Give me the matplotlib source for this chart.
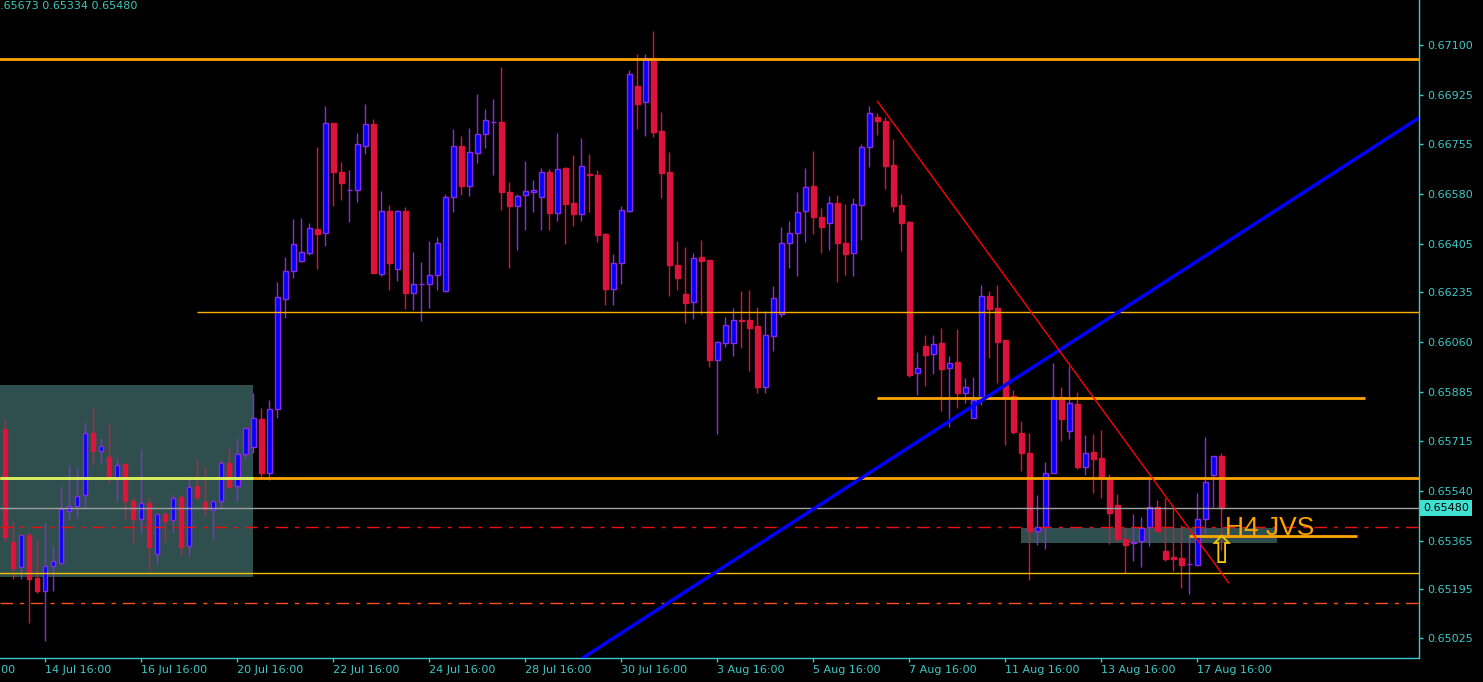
import numpy as np
import matplotlib
matplotlib.use("Agg")
import matplotlib.pyplot as plt
from matplotlib.patches import Rectangle

# ---------------- data (H4 candles) ----------------
opens = [0.65755, 0.65361, 0.65272, 0.65384, 0.65234, 0.65190, 0.65276, 0.65286, 0.65468, 0.65485,
         0.65524, 0.65741, 0.65678, 0.65657, 0.65582, 0.65633, 0.65503, 0.65440, 0.65496, 0.65319,
         0.65459, 0.65436, 0.65517, 0.65347, 0.65557, 0.65501, 0.65473, 0.65503, 0.65636, 0.65557,
         0.65669, 0.65694, 0.65790, 0.65603, 0.65825, 0.66212, 0.66308, 0.66345, 0.66373, 0.66455,
         0.66443, 0.66826, 0.66654, 0.66594, 0.66594, 0.66748, 0.66822, 0.66300, 0.66518, 0.66317,
         0.66518, 0.66231, 0.66262, 0.66262, 0.66294, 0.66238, 0.66567, 0.66745, 0.66608, 0.66721,
         0.66787, 0.66829, 0.66830, 0.66584, 0.66538, 0.66574, 0.66584, 0.66567, 0.66654, 0.66511,
         0.66668, 0.66546, 0.66510, 0.66647, 0.66644, 0.66439, 0.66247, 0.66338, 0.66519, 0.66957,
         0.66902, 0.67053, 0.66799, 0.66656, 0.66330, 0.66227, 0.66202, 0.66357, 0.66346, 0.65999,
         0.66058, 0.66058, 0.66136, 0.66136, 0.66115, 0.65904, 0.66080, 0.66157, 0.66408, 0.66441,
         0.66518, 0.66607, 0.66498, 0.66478, 0.66546, 0.66406, 0.66371, 0.66539, 0.66742, 0.66847,
         0.66833, 0.66679, 0.66539, 0.66479, 0.65951, 0.66045, 0.66017, 0.66056, 0.65968, 0.65989,
         0.65883, 0.65793, 0.65862, 0.66220, 0.66178, 0.66066, 0.65870, 0.65741, 0.65671, 0.65400,
         0.65412, 0.65603, 0.65867, 0.65748, 0.65844, 0.65624, 0.65674, 0.65655, 0.65585, 0.65489,
         0.65370, 0.65356, 0.65363, 0.65412, 0.65482, 0.65328, 0.65309, 0.65305, 0.65282, 0.65281,
         0.65442, 0.65594, 0.65660]
highs = [0.65790, 0.65429, 0.65384, 0.65396, 0.65370, 0.65426, 0.65347, 0.65557, 0.65630, 0.65618,
         0.65782, 0.65831, 0.65723, 0.65778, 0.65653, 0.65633, 0.65519, 0.65685, 0.65517, 0.65459,
         0.65467, 0.65525, 0.65525, 0.65589, 0.65650, 0.65627, 0.65503, 0.65648, 0.65688, 0.65723,
         0.65758, 0.65883, 0.65828, 0.65858, 0.66271, 0.66358, 0.66491, 0.66495, 0.66477, 0.66743,
         0.66887, 0.66826, 0.66691, 0.66663, 0.66792, 0.66894, 0.66841, 0.66589, 0.66540, 0.66523,
         0.66533, 0.66376, 0.66341, 0.66414, 0.66428, 0.66579, 0.66806, 0.66782, 0.66810, 0.66930,
         0.66876, 0.66911, 0.67024, 0.66621, 0.66577, 0.66694, 0.66628, 0.66670, 0.66666, 0.66792,
         0.66674, 0.66715, 0.66775, 0.66719, 0.66663, 0.66441, 0.66369, 0.66537, 0.67013, 0.67069,
         0.67069, 0.67150, 0.66866, 0.66726, 0.66414, 0.66393, 0.66371, 0.66418, 0.66346, 0.66064,
         0.66148, 0.66178, 0.66239, 0.66241, 0.66182, 0.66169, 0.66255, 0.66463, 0.66484, 0.66586,
         0.66668, 0.66729, 0.66530, 0.66570, 0.66574, 0.66542, 0.66563, 0.66754, 0.66887, 0.66861,
         0.66847, 0.66770, 0.66577, 0.66484, 0.66026, 0.66085, 0.66085, 0.66108, 0.66012, 0.66105,
         0.65936, 0.65937, 0.66260, 0.66239, 0.66260, 0.66066, 0.65893, 0.65784, 0.65741, 0.65525,
         0.65641, 0.65987, 0.65903, 0.65977, 0.65886, 0.65735, 0.65739, 0.65754, 0.65599, 0.65529,
         0.65413, 0.65459, 0.65448, 0.65583, 0.65509, 0.65515, 0.65481, 0.65419, 0.65379, 0.65531,
         0.65728, 0.65660, 0.65673]
lows = [0.65362, 0.65231, 0.65231, 0.65078, 0.65181, 0.65015, 0.65190, 0.65286, 0.65438, 0.65443,
        0.65484, 0.65630, 0.65636, 0.65568, 0.65505, 0.65440, 0.65356, 0.65391, 0.65267, 0.65284,
        0.65362, 0.65397, 0.65315, 0.65312, 0.65508, 0.65447, 0.65370, 0.65484, 0.65554, 0.65505,
        0.65650, 0.65671, 0.65587, 0.65578, 0.65793, 0.66146, 0.66286, 0.66342, 0.66366, 0.66316,
        0.66398, 0.66538, 0.66559, 0.66481, 0.66552, 0.66720, 0.66303, 0.66293, 0.66244, 0.66275,
        0.66177, 0.66174, 0.66135, 0.66181, 0.66244, 0.66234, 0.66517, 0.66576, 0.66573, 0.66688,
        0.66741, 0.66646, 0.66524, 0.66321, 0.66384, 0.66454, 0.66517, 0.66454, 0.66454, 0.66485,
        0.66405, 0.66468, 0.66485, 0.66517, 0.66412, 0.66191, 0.66191, 0.66265, 0.66517, 0.66806,
        0.66782, 0.66778, 0.66565, 0.66222, 0.66243, 0.66128, 0.66142, 0.66160, 0.65974, 0.65740,
        0.66044, 0.66013, 0.66041, 0.65960, 0.65883, 0.65883, 0.66030, 0.66148, 0.66321, 0.66293,
        0.66412, 0.66439, 0.66373, 0.66384, 0.66272, 0.66296, 0.66293, 0.66419, 0.66674, 0.66786,
        0.66597, 0.66517, 0.66380, 0.65939, 0.65875, 0.65908, 0.65949, 0.65820, 0.65764, 0.65831,
        0.65848, 0.65793, 0.65840, 0.66006, 0.65916, 0.65701, 0.65740, 0.65610, 0.65229, 0.65351,
        0.65337, 0.65601, 0.65715, 0.65722, 0.65615, 0.65595, 0.65531, 0.65515, 0.65354, 0.65362,
        0.65251, 0.65295, 0.65272, 0.65348, 0.65397, 0.65295, 0.65260, 0.65201, 0.65180, 0.65278,
        0.65391, 0.65482, 0.65334]
closes = [0.65377, 0.65271, 0.65384, 0.65232, 0.65190, 0.65275, 0.65295, 0.65475, 0.65485, 0.65523,
          0.65741, 0.65680, 0.65695, 0.65586, 0.65631, 0.65503, 0.65440, 0.65496, 0.65344, 0.65459,
          0.65433, 0.65513, 0.65344, 0.65552, 0.65519, 0.65475, 0.65503, 0.65636, 0.65554, 0.65667,
          0.65758, 0.65793, 0.65603, 0.65825, 0.66217, 0.66308, 0.66402, 0.66374, 0.66458, 0.66440,
          0.66826, 0.66657, 0.66618, 0.66594, 0.66752, 0.66822, 0.66303, 0.66518, 0.66338, 0.66518,
          0.66233, 0.66262, 0.66262, 0.66294, 0.66406, 0.66567, 0.66745, 0.66608, 0.66724, 0.66787,
          0.66836, 0.66829, 0.66587, 0.66538, 0.66570, 0.66588, 0.66591, 0.66654, 0.66513, 0.66665,
          0.66545, 0.66510, 0.66675, 0.66645, 0.66436, 0.66247, 0.66336, 0.66521, 0.66997, 0.66894,
          0.67053, 0.66797, 0.66653, 0.66331, 0.66286, 0.66198, 0.66353, 0.66345, 0.65999, 0.66059,
          0.66119, 0.66136, 0.66134, 0.66111, 0.65904, 0.66084, 0.66213, 0.66406, 0.66441, 0.66514,
          0.66602, 0.66499, 0.66464, 0.66546, 0.66408, 0.66370, 0.66542, 0.66742, 0.66861, 0.66835,
          0.66678, 0.66538, 0.66478, 0.65945, 0.65968, 0.66016, 0.66055, 0.65967, 0.65988, 0.65883,
          0.65904, 0.65859, 0.66220, 0.66177, 0.66062, 0.65869, 0.65747, 0.65671, 0.65400, 0.65412,
          0.65601, 0.65867, 0.65790, 0.65846, 0.65624, 0.65671, 0.65652, 0.65589, 0.65461, 0.65370,
          0.65351, 0.65362, 0.65410, 0.65482, 0.65400, 0.65302, 0.65302, 0.65281, 0.65282, 0.65442,
          0.65569, 0.65660, 0.65480]

# time axis labels (bar index -> label)
tick_index = [5, 17, 29, 41, 53, 65, 77, 89, 101, 113, 125, 137, 149]
tick_labels = ["14 Jul 16:00", "16 Jul 16:00", "20 Jul 16:00", "22 Jul 16:00", "24 Jul 16:00",
               "28 Jul 16:00", "30 Jul 16:00", "3 Aug 16:00", "5 Aug 16:00", "7 Aug 16:00",
               "11 Aug 16:00", "13 Aug 16:00", "17 Aug 16:00"]
prev_tick_index = -7
prev_tick_label = "10 Jul 16:00"
price_ticks = [0.67100, 0.66925, 0.66755, 0.66580, 0.66405, 0.66235, 0.66060,
               0.65885, 0.65715, 0.65540, 0.65365, 0.65195, 0.65025]

# drawn objects
level_top = 0.67051
level_mid = 0.66164
level_mid_start = 24
level_short = 0.65865
level_short_span = (109, 170)
level_main = 0.65585
last_close = 0.65480
dashdot_red = 0.65412
jvs_level = 0.65383
jvs_span = (148, 169)
thin_yellow = 0.65251
dashdot_orange = 0.65146
box1 = (-1, 31, 0.65239, 0.65910)      # x0, x1, low, high
box2 = (127, 159, 0.65358, 0.65410)
blue_trend = ((72.2, 0.64955), (176.7, 0.66845))
red_trend = ((109.0, 0.66903), (152.9, 0.65218))
ohlc_header = "0.65673 0.65334 0.65480"
jvs_text = "H4 JVS"
jvs_text_pos = (152.5, 0.65386)
arrow_pos = (152.0, 0.65322)

# ---------------- figure ----------------
W, H = 1483, 682
fig = plt.figure(figsize=(W / 100, H / 100), dpi=100, facecolor="black")
ax = fig.add_axes([0, 24 / H, 1419 / W, 658 / H])
ax.set_facecolor("black")

xmin, xmax = -0.66, 176.7
ymin, ymax = 0.649545, 0.672575
ax.set_xlim(xmin, xmax)
ax.set_ylim(ymin, ymax)

o = np.array(opens); hgh = np.array(highs); lw_ = np.array(lows); c = np.array(closes)
x = np.arange(len(o))
up = c >= o
bull_fill, bull_edge = "#0000FF", "#8A2BE2"
bear_fill, bear_edge = "#DC143C", "#DC143C"
fill = np.where(up, bull_fill, bear_fill)
edge = np.where(up, bull_edge, bear_edge)

# boxes (behind candles)
for (bx0, bx1, blo, bhi) in (box1, box2):
    ax.add_patch(Rectangle((bx0, blo), bx1 - bx0, bhi - blo, facecolor="#2F4F4F",
                           edgecolor="none", zorder=1))

ax.vlines(x, lw_, hgh, colors=edge, linewidth=1, zorder=3)
ax.bar(x, np.maximum(np.abs(c - o), 2e-6), bottom=np.minimum(o, c), width=0.55,
       color=fill, edgecolor=edge, linewidth=1, zorder=4)

# horizontal levels
ax.axhline(level_top, color="#FFA500", lw=2, zorder=5)
ax.hlines(level_mid, level_mid_start, xmax, color="#FFB000", lw=1, zorder=5)
ax.hlines(level_short, *level_short_span, color="#FFA500", lw=2, zorder=5)
ax.axhline(level_main, color="#FFA500", lw=2, zorder=5)
ax.hlines(level_main, xmin, box1[1], color="#D4F064", lw=2, zorder=5)
ax.axhline(last_close, color="#A0A0A0", lw=1, zorder=5)
ax.axhline(dashdot_red, color="#E81010", lw=1, ls=(0, (9, 5, 3, 5)), zorder=5)
ax.axhline(thin_yellow, color="#F0C000", lw=1, zorder=5)
ax.axhline(dashdot_orange, color="#FF5010", lw=1, ls=(0, (9, 5, 3, 5)), zorder=5)
ax.hlines(jvs_level, *jvs_span, color="#FFA500", lw=2, zorder=5)

# trend lines
ax.axline(blue_trend[0], blue_trend[1], color="#0000FF", lw=2.5, zorder=6)
ax.plot([red_trend[0][0], red_trend[1][0]], [red_trend[0][1], red_trend[1][1]],
        color="#FF0000", lw=1, zorder=6)

# annotations
ax.text(jvs_text_pos[0], jvs_text_pos[1], jvs_text, color="#FFA500", fontsize=19,
        family="Liberation Sans", ha="left", va="baseline", zorder=7)
ax.text(arrow_pos[0], arrow_pos[1], "\u21e7", color="#F0C800", fontsize=27,
        family="DejaVu Sans", ha="center", va="center", zorder=7)

# axes styling
axis_col = "#3CC8C8"
for s in ("top", "left"):
    ax.spines[s].set_visible(False)
for s in ("right", "bottom"):
    ax.spines[s].set_color(axis_col)
    ax.spines[s].set_linewidth(1)

ax.yaxis.tick_right()
ax.set_yticks(price_ticks)
ax.set_yticklabels([f"{p:.5f}" for p in price_ticks])
ax.set_xticks(tick_index)
ax.set_xticklabels(tick_labels)
ax.tick_params(axis="y", colors=axis_col, labelcolor=axis_col, length=3, width=1,
               pad=3, labelsize=8)
ax.tick_params(axis="x", colors=axis_col, labelcolor=axis_col, length=3, width=1,
               pad=2, labelsize=8)
for lab in ax.get_xticklabels():
    lab.set_horizontalalignment("left")

# cut-off previous date label at the left edge
ax.annotate(prev_tick_label, xy=(prev_tick_index, 0), xycoords=("data", "axes fraction"),
            xytext=(0, -5), textcoords="offset points", ha="left", va="top",
            color=axis_col, fontsize=8, annotation_clip=False)

# current price tag
ax.annotate(f"{last_close:.5f}", xy=(1, last_close), xycoords=("axes fraction", "data"),
            xytext=(3, 0), textcoords="offset points", ha="left", va="center",
            color="black", fontsize=8, annotation_clip=False,
            bbox=dict(boxstyle="square,pad=0.25", fc="#40E0D0", ec="none"))

# OHLC header (partly cut at the left edge)
fig.text(-7 / W, 1 - 1 / H, ohlc_header, color="#3CC8BC", fontsize=8, ha="left", va="top")

fig.savefig("out.png", dpi=100, facecolor="black")
